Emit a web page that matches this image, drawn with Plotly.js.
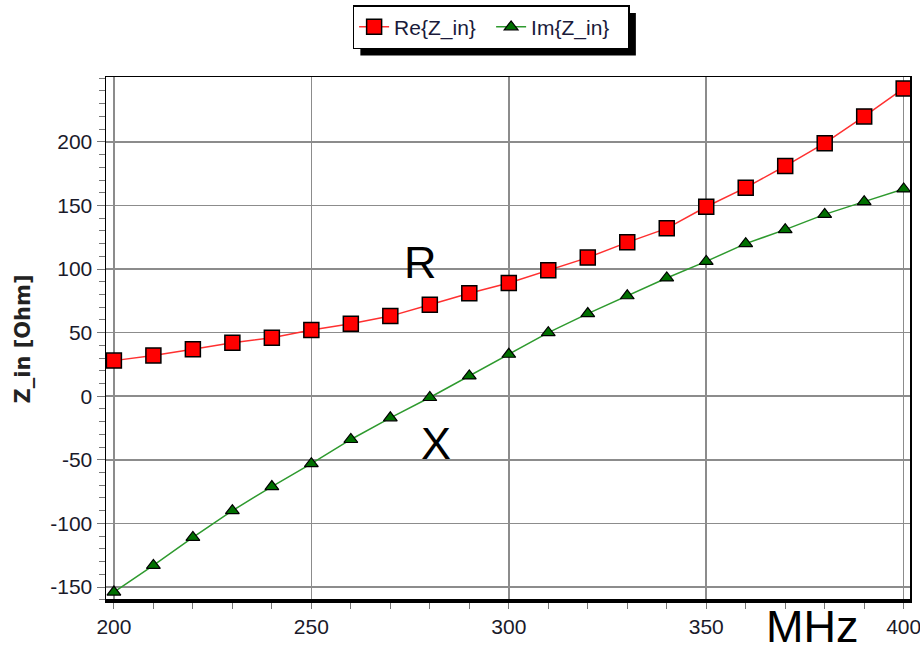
<!DOCTYPE html>
<html>
<head>
<meta charset="utf-8">
<script src="https://cdn.plot.ly/plotly-3.0.1.min.js"></script>
<style>html,body{margin:0;padding:0;background:#fff;}#chart{width:920px;height:647px;}</style>
</head>
<body>
<div id="chart"></div>
<script>
const freqMHz = [200,210,220,230,240,250,260,270,280,290,300,310,320,330,340,350,360,370,380,390,400];
const reZin = [28,32,37,42,46,52,57,63,72,81,89,99,109,121,132,149,164,181,199,220,242];
const imZin = [-154,-133,-111,-90,-71,-53,-34,-17,-1,16,33,50,65,79,93,106,120,131,143,153,163];
const seriesNames = ['Re{Z_in}','Im{Z_in}'];
const xTicks = [200,250,300,350,400];
const yTicks = [-150,-100,-50,0,50,100,150,200];

const font = 'Liberation Sans, Arial, sans-serif';
const traces = [
  {x: freqMHz, y: reZin, name: seriesNames[0], type: 'scatter', mode: 'lines+markers',
   line: {color: '#ff3030', width: 1.5},
   marker: {symbol: 'square', size: 15, color: '#ff0000', line: {color: '#000', width: 1.5}}},
  {x: freqMHz, y: imZin, name: seriesNames[1], type: 'scatter', mode: 'lines+markers',
   line: {color: '#2e9a2e', width: 1.5},
   marker: {symbol: 'triangle-up', size: 12, color: '#007000', line: {color: '#000', width: 1.2}}}
];
const layout = {
  width: 920, height: 647,
  margin: {l: 106, r: 10, t: 77, b: 46, autoexpand: false},
  paper_bgcolor: '#fff', plot_bgcolor: '#fff',
  font: {family: font, size: 21, color: '#1a1a2a'},
  showlegend: true,
  legend: {orientation: 'h', x: 0.479, xanchor: 'center', xref: 'paper', y: 1.095, yanchor: 'middle',
           bgcolor: '#fff', bordercolor: '#000', borderwidth: 1.5,
           font: {family: font, size: 21, color: '#1a1a3a'}, itemwidth: 30, tracegroupgap: 0,
           entrywidth: 92, entrywidthmode: 'pixels'},
  xaxis: {range: [198, 401.6], tickvals: xTicks, ticktext: xTicks.map(String),
          showgrid: true, gridcolor: '#8c8c8c', gridwidth: 1.5,
          showline: true, linecolor: '#000', linewidth: 1.5, mirror: true,
          ticks: 'outside', ticklen: 6, tickcolor: '#777', zeroline: false,
          ticklabeloverflow: 'allow',
          minor: {dtick: 10, tick0: 200, ticks: 'outside', ticklen: 6, tickcolor: '#777', showgrid: false},
          tickfont: {size: 21}},
  yaxis: {range: [-161, 251], tickvals: yTicks, ticktext: yTicks.map(String),
          showgrid: true, gridcolor: '#8c8c8c', gridwidth: 1.5,
          showline: true, linecolor: '#000', linewidth: 1.5, mirror: true,
          ticks: 'outside', ticklen: 8, tickcolor: '#777', zeroline: false,
          ticklabeloverflow: 'allow',
          minor: {dtick: 10, tick0: 0, ticks: 'outside', ticklen: 6, tickcolor: '#777', showgrid: false},
          tickfont: {size: 21},
          title: {text: '<b>Z_in [Ohm]</b>', font: {family: 'DejaVu Sans, sans-serif', size: 21, color: '#222'}, standoff: 14}},
  shapes: [
    {type: 'line', xref: 'paper', yref: 'paper', x0: 0, x1: 1, y0: 0, y1: 0, line: {color: '#000', width: 4}},
    {type: 'rect', xref: 'paper', yref: 'paper', x0: 0.316, x1: 0.6555, y0: 1.042, y1: 1.1145,
     fillcolor: '#000', line: {width: 0}, layer: 'below'}
  ],
  annotations: [
    {x: 277.7, y: 105.5, xref: 'x', yref: 'y', text: 'R', showarrow: false, xanchor: 'center', yanchor: 'middle',
     font: {family: font, size: 45, color: '#000'}},
    {x: 281.5, y: -37, xref: 'x', yref: 'y', text: 'X', showarrow: false, xanchor: 'center', yanchor: 'middle',
     font: {family: font, size: 45, color: '#000'}},
    {x: 0.878, y: -0.048, xref: 'paper', yref: 'paper', text: 'MHz', showarrow: false, xanchor: 'center', yanchor: 'middle',
     font: {family: font, size: 45, color: '#000'}}
  ]
};
Plotly.newPlot('chart', traces, layout, {displayModeBar: false, staticPlot: true}).then(function (gd) {
  // place the legend shadow 7px right/down of the actual legend box
  const bg = gd.querySelector('.legend .bg');
  if (!bg) return;
  const r = bg.getBoundingClientRect();
  const c = gd.getBoundingClientRect();
  const sz = gd._fullLayout._size;
  const toX = px => (px - c.left - sz.l) / sz.w;
  const toY = py => 1 - (py - c.top - sz.t) / sz.h;
  Plotly.relayout(gd, {
    'shapes[1].x0': toX(r.left + 7), 'shapes[1].x1': toX(r.right + 7),
    'shapes[1].y0': toY(r.bottom + 7), 'shapes[1].y1': toY(r.top + 7)
  });
});
</script>
</body>
</html>
